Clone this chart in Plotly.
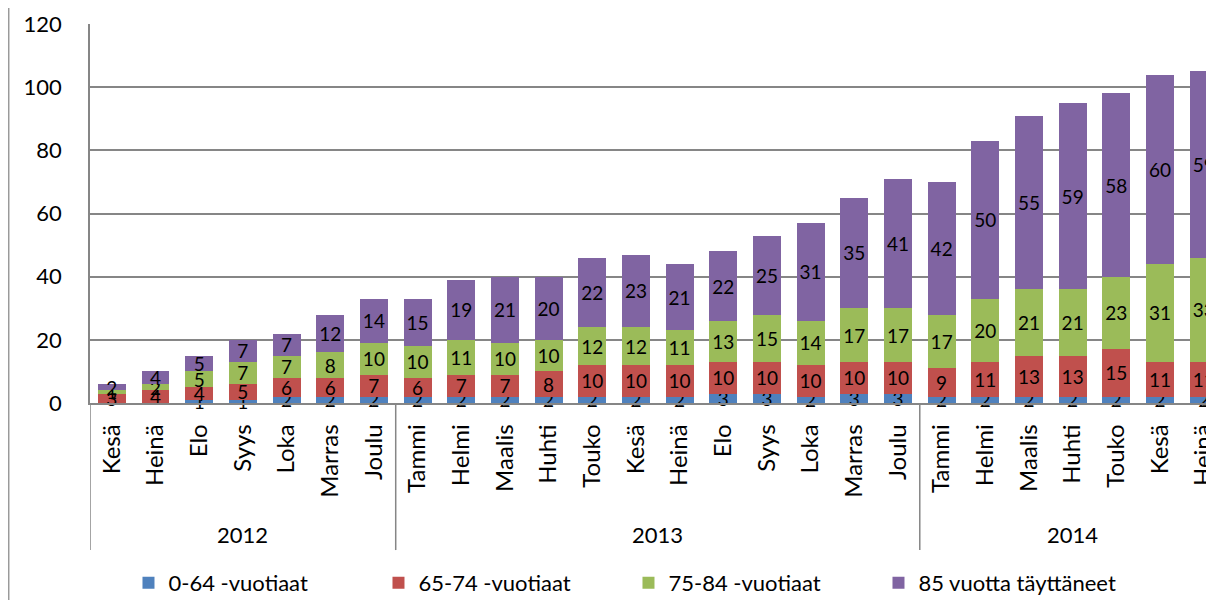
import plotly.graph_objects as go

# Months (Finnish short names) and the year each one belongs to
months = ["Kesä", "Heinä", "Elo", "Syys", "Loka", "Marras", "Joulu",
          "Tammi", "Helmi", "Maalis", "Huhti", "Touko", "Kesä", "Heinä",
          "Elo", "Syys", "Loka", "Marras", "Joulu",
          "Tammi", "Helmi", "Maalis", "Huhti", "Touko", "Kesä", "Heinä"]
month_years = ["2012"] * 7 + ["2013"] * 12 + ["2014"] * 7

# Series values
age_0_64 = [0, 0, 1, 1, 2, 2, 2,
            2, 2, 2, 2, 2, 2, 2, 3, 3, 2, 3, 3,
            2, 2, 2, 2, 2, 2, 2]
age_65_74 = [3, 4, 4, 5, 6, 6, 7,
             6, 7, 7, 8, 10, 10, 10, 10, 10, 10, 10, 10,
             9, 11, 13, 13, 15, 11, 11]
age_75_84 = [1, 2, 5, 7, 7, 8, 10,
             10, 11, 10, 10, 12, 12, 11, 13, 15, 14, 17, 17,
             17, 20, 21, 21, 23, 31, 33]
age_85_plus = [2, 4, 5, 7, 7, 12, 14,
               15, 19, 21, 20, 22, 23, 21, 22, 25, 31, 35, 41,
               42, 50, 55, 59, 58, 60, 59]

series = [
    ("0-64 -vuotiaat", age_0_64, "#4F81BD"),
    ("65-74 -vuotiaat", age_65_74, "#C0504D"),
    ("75-84 -vuotiaat", age_75_84, "#9BBB59"),
    ("85 vuotta täyttäneet", age_85_plus, "#8064A2"),
]

FONT = "Lato"
GRID = "#868686"
x_idx = list(range(len(months)))

fig = go.Figure()
for name, vals, color in series:
    fig.add_trace(go.Bar(
        x=x_idx, y=vals, name=name,
        marker=dict(color=color, line=dict(width=0)),
        text=[str(v) if v else "" for v in vals],
        textposition="inside", insidetextanchor="middle", textangle=0,
        textfont=dict(family=FONT, size=19, color="black"),
        constraintext="none", cliponaxis=False,
    ))

# year groups: dividers and labels
groups = []
for i, yr in enumerate(month_years):
    if not groups or groups[-1][0] != yr:
        groups.append([yr, i, i])
    else:
        groups[-1][2] = i

shapes = []
annotations = []
for yr, start, end in groups:
    shapes.append(dict(type="line", xref="x", yref="paper",
                       x0=start - 0.5, x1=start - 0.5, y0=0, y1=-0.388,
                       line=dict(color=GRID, width=1.5)))
    annotations.append(dict(xref="x", yref="paper", x=(start + end) / 2, y=0,
                            yshift=-131, yanchor="middle", showarrow=False,
                            text=yr, font=dict(family=FONT, size=22, color="black")))

# outer chart frame (left edge)
shapes.append(dict(type="line", xref="paper", yref="paper",
                   x0=-0.0718, x1=-0.0718, y0=-0.6, y1=1.1,
                   line=dict(color="#9a9a9a", width=1.5)))

fig.update_layout(
    barmode="stack",
    bargap=0.36,
    width=1214, height=600,
    margin=dict(l=82, r=0, t=16, b=205),
    plot_bgcolor="white", paper_bgcolor="white",
    font=dict(family=FONT, size=22, color="black"),
    uniformtext=dict(minsize=19, mode="show"),
    showlegend=True,
    legend=dict(orientation="h", x=0.034, xanchor="left", y=-0.475, yanchor="middle",
                font=dict(family=FONT, size=22), traceorder="normal",
                entrywidth=205, entrywidthmode="pixels"),
    shapes=shapes,
    annotations=annotations,
)
fig.update_xaxes(
    range=[-0.5, 25.42], automargin=False,
    tickmode="array", tickvals=x_idx, ticktext=months,
    tickangle=-90, ticklabelstandoff=10,
    tickfont=dict(family=FONT, size=24),
    showline=True, linecolor=GRID, linewidth=1.5,
    showgrid=False, zeroline=False, ticks="",
)
fig.update_yaxes(
    range=[0, 120], dtick=20, automargin=False,
    showgrid=True, gridcolor=GRID, gridwidth=1.5,
    showline=True, linecolor=GRID, linewidth=1.5,
    zeroline=False, ticks="", ticklabelstandoff=22,
    tickfont=dict(family=FONT, size=22),
)

fig.write_html("out.html")
